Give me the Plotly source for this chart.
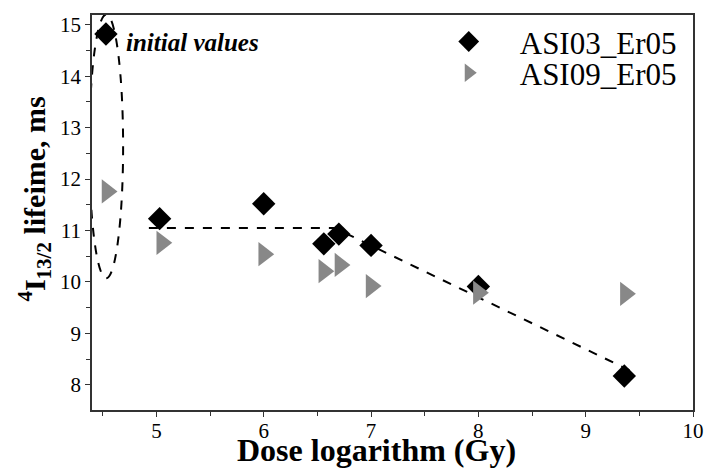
import plotly.graph_objects as go

# Data
asi03_x = [4.53, 5.03, 6.0, 6.56, 6.70, 7.0, 8.0, 9.36]
asi03_y = [14.82, 11.23, 11.52, 10.74, 10.93, 10.71, 9.91, 8.17]
asi09_x = [4.54, 5.05, 6.0, 6.56, 6.71, 7.0, 8.0, 9.37]
asi09_y = [11.76, 10.76, 10.54, 10.21, 10.33, 9.92, 9.79, 9.77]

# guide (dashed) line
guide_x = [4.93, 6.66, 9.46]
guide_y = [11.05, 11.05, 8.23]

# ellipse around initial values
ell_x = [4.375, 4.69]
ell_y = [10.07, 15.2]

x_ticks = [5, 6, 7, 8, 9, 10]
y_ticks = [8, 9, 10, 11, 12, 13, 14, 15]

FONT = "Liberation Serif, Times New Roman, serif"

fig = go.Figure()
fig.add_trace(go.Scatter(x=guide_x, y=guide_y, mode="lines",
                         line=dict(color="black", width=2, dash="dash"),
                         showlegend=False, hoverinfo="skip"))
fig.add_trace(go.Scatter(x=asi03_x, y=asi03_y, mode="markers", name="ASI03_Er05",
                         legend="legend",
                         marker=dict(symbol="diamond", size=18, color="black")))
fig.add_trace(go.Scatter(x=asi09_x, y=asi09_y, mode="markers", name="ASI09_Er05",
                         legend="legend2",
                         marker=dict(symbol="triangle-right", size=21, color="#888888")))

fig.add_shape(type="circle", xref="x", yref="y",
              x0=ell_x[0], x1=ell_x[1], y0=ell_y[0], y1=ell_y[1],
              line=dict(color="black", width=2, dash="dash"))

fig.add_annotation(x=4.7, y=14.65, xref="x", yref="y", text="<b><i>initial values</i></b>",
                   showarrow=False, xanchor="left", yanchor="middle",
                   font=dict(family=FONT, size=25, color="black"))

# axis titles as annotations
fig.add_annotation(x=0.473, y=-0.05, xref="paper", yref="paper", yanchor="top",
                   text="<b>Dose logarithm (Gy)</b>", showarrow=False,
                   font=dict(family=FONT, size=32, color="black"))
fig.add_annotation(x=-0.095, y=0.535, xref="paper", yref="paper", xanchor="center",
                   textangle=-90, text="<b><sup>4</sup>I<sub>13/2</sub> lifeime, ms</b>",
                   showarrow=False, font=dict(family=FONT, size=30, color="black"))

axis_common = dict(showline=True, linecolor="#333333", linewidth=1.5, mirror=True,
                   ticks="outside", ticklen=5, tickcolor="#333333", showgrid=False,
                   zeroline=False, automargin=False,
                   tickfont=dict(family=FONT, size=21, color="black"),
                   minor=dict(ticks="outside", ticklen=4, dtick=0.5, tickcolor="#333333"))

leg_common = dict(xanchor="left", yanchor="middle", bgcolor="rgba(0,0,0,0)",
                  font=dict(family=FONT, size=31, color="black"), itemwidth=92)

fig.update_layout(
    width=704, height=470,
    margin=dict(l=92, r=11, t=15, b=60),
    plot_bgcolor="white", paper_bgcolor="white",
    xaxis=dict(range=[4.4, 10], tickvals=x_ticks, ticklabelstandoff=-4, **axis_common),
    yaxis=dict(range=[7.51, 15.19], tickvals=y_ticks, **axis_common),
    legend=dict(x=0.542, y=0.932, **leg_common),
    legend2=dict(x=0.542, y=0.853, **leg_common),
    showlegend=True,
)

fig.write_html("out.html", config={"displayModeBar": False},
               post_script="document.body.style.margin='0';document.body.style.padding='0';")
